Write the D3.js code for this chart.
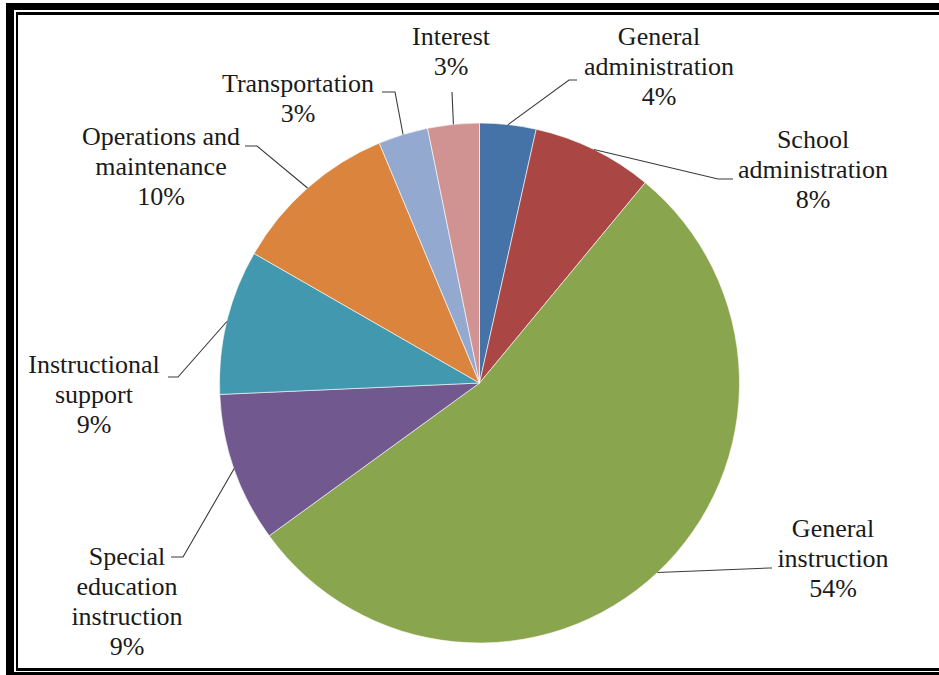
<!DOCTYPE html>
<html>
<head>
<meta charset="utf-8">
<script src="https://cdn.jsdelivr.net/npm/d3@7"></script>
<style>
  html, body { margin: 0; padding: 0; background: #fff; }
  #chart { position: absolute; left: 0; top: 0; }
  .lbl { font-family: "Liberation Serif", serif; }
  #warm { position: absolute; left: 0; top: 0; font-family: "Liberation Serif"; font-size: 24px; color: #fff; }
</style>
</head>
<body>
<div id="warm">Interest</div>
<svg id="chart" width="939" height="675"></svg>
<script>
// ---- data ----
const categories = [
  "General administration",
  "School administration",
  "General instruction",
  "Special education instruction",
  "Instructional support",
  "Operations and maintenance",
  "Transportation",
  "Interest"
];
const values = [3.5, 7.5, 54.0, 9.3, 9.0, 10.4, 3.1, 3.2];
const labelLines = [
  ["General", "administration"],
  ["School", "administration"],
  ["General", "instruction"],
  ["Special", "education", "instruction"],
  ["Instructional", "support"],
  ["Operations and", "maintenance"],
  ["Transportation"],
  ["Interest"]
];
const colors = ["#4572A7", "#AA4643", "#89A54E", "#71588F", "#4198AF", "#DB843D", "#93A9CF", "#D19392"];

// ---- layout (not data) ----
const cx = 479.5, cy = 383, r = 260;
const labelLayout = [
  { x: 659, y: 45,  elbow: [569, 80],  end: [577, 80] },
  { x: 813, y: 148, elbow: [718, 179], end: [733, 179] },
  { x: 833, y: 537, elbow: [770, 568], end: [772, 568] },
  { x: 127, y: 565, elbow: [183, 557], end: [171, 557] },
  { x: 94,  y: 373, elbow: [178, 377], end: [168, 377] },
  { x: 161, y: 145, elbow: [257, 146], end: [245, 146] },
  { x: 298, y: 92,  elbow: [395, 92],  end: [382, 92] },
  { x: 451, y: 45,  elbow: [452, 92],  end: [452, 92] }
];
const lineH = 30;
const fontSize = 26;

const svg = d3.select("#chart");

// frame
svg.append("rect").attr("x", 6).attr("y", 3).attr("width", 1000).attr("height", 700).attr("fill", "#000");
svg.append("rect").attr("x", 14).attr("y", 10).attr("width", 1000).attr("height", 662).attr("fill", "#fff");
svg.append("rect").attr("x", 16).attr("y", 12).attr("width", 1000).attr("height", 659).attr("fill", "#000");
svg.append("rect").attr("x", 18).attr("y", 15).attr("width", 1000).attr("height", 653).attr("fill", "#fff");

const pie = d3.pie().sort(null).value(d => d.value);
const data = categories.map((c, i) => ({ name: c, value: values[i], color: colors[i], lines: labelLines[i], layout: labelLayout[i] }));
const arcs = pie(data);
const arc = d3.arc().innerRadius(0).outerRadius(r);
const edgeArc = d3.arc().innerRadius(r).outerRadius(r);

const g = svg.append("g").attr("transform", `translate(${cx},${cy})`);
g.selectAll("path.slice").data(arcs).enter().append("path")
  .attr("class", "slice")
  .attr("d", arc)
  .attr("fill", d => d.data.color)
  .attr("stroke", "#fff")
  .attr("stroke-width", 0.6);

// leader lines
svg.selectAll("path.leader").data(arcs).enter().append("path")
  .attr("class", "leader")
  .attr("fill", "none")
  .attr("stroke", "#3a3a3a")
  .attr("stroke-width", 1.1)
  .attr("d", d => {
    const c = edgeArc.centroid(d);
    const L = d.data.layout;
    return d3.line()([[cx + c[0], cy + c[1]], L.elbow, L.end]);
  });

// labels
const total = d3.sum(values);
arcs.forEach(d => {
  const lines = d.data.lines.concat([Math.round(d.data.value / total * 100) + "%"]);
  lines.forEach((ln, i) => {
    svg.append("text")
      .attr("class", "lbl")
      .attr("x", d.data.layout.x)
      .attr("y", d.data.layout.y + i * lineH)
      .attr("text-anchor", "middle")
      .attr("font-family", "Liberation Serif")
      .attr("font-size", fontSize)
      .attr("fill", "#1a1a1a")
      .text(ln);
  });
});
</script>
</body>
</html>
